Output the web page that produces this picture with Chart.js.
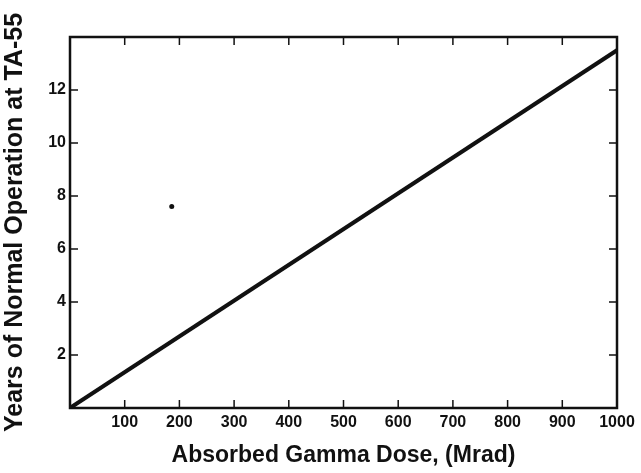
<!DOCTYPE html>
<html>
<head>
<meta charset="utf-8">
<script src="https://cdn.jsdelivr.net/npm/chart.js@4.4.0/dist/chart.umd.min.js"></script>
<style>
    html, body { margin: 0; padding: 0; background: #fff; }
    #wrap { width: 641px; height: 473px; }
</style>
</head>
<body>
<div id="wrap"><canvas id="chartDose"></canvas></div>
<script>
// ================= DATOS =================
const doseMrad = [0, 1000];          // x (Mrad)
const yearsOperation = [0, 13.5];    // y (years)
const speckX = [186];                // stray dot in the scan
const speckY = [7.6];
const xTicks = [100, 200, 300, 400, 500, 600, 700, 800, 900, 1000];
const yTicks = [2, 4, 6, 8, 10, 12];

const FONT = "'Liberation Sans', Arial, Helvetica, sans-serif";

// marco completo + marcas hacia dentro
const framePlugin = {
    id: 'frame',
    afterDraw(chart) {
        const { ctx, chartArea: a, scales: { x, y } } = chart;
        ctx.save();
        ctx.strokeStyle = '#111';
        ctx.lineWidth = 2.5;
        ctx.strokeRect(a.left, a.top, a.right - a.left, a.bottom - a.top);
        ctx.lineWidth = 1.5;
        ctx.beginPath();
        xTicks.forEach(v => {
            const px = x.getPixelForValue(v);
            if (v < 1000) {
                ctx.moveTo(px, a.bottom); ctx.lineTo(px, a.bottom - 8);
                ctx.moveTo(px, a.top); ctx.lineTo(px, a.top + 8);
            }
        });
        yTicks.forEach(v => {
            const py = y.getPixelForValue(v);
            ctx.moveTo(a.left, py); ctx.lineTo(a.left + 8, py);
            ctx.moveTo(a.right, py); ctx.lineTo(a.right - 8, py);
        });
        ctx.stroke();
        ctx.restore();
    }
};

new Chart(document.getElementById('chartDose'), {
    type: 'scatter',
    data: {
        datasets: [{
            data: doseMrad.map((v, i) => ({ x: v, y: yearsOperation[i] })),
            showLine: true,
            borderColor: '#111',
            borderWidth: 4,
            pointRadius: 0
        }, {
            data: speckX.map((v, i) => ({ x: v, y: speckY[i] })),
            pointRadius: 2.5,
            pointBackgroundColor: '#111',
            pointBorderWidth: 0
        }]
    },
    options: {
        responsive: true,
        maintainAspectRatio: false,
        animation: false,
        layout: { padding: { top: 37, right: 24, left: 0, bottom: 0 } },
        plugins: { legend: { display: false }, tooltip: { enabled: false } },
        scales: {
            x: {
                type: 'linear', min: 0, max: 1000,
                afterFit: s => { s.height = 65; },
                afterBuildTicks: s => { s.ticks = xTicks.map(v => ({ value: v })); },
                grid: { display: false, drawTicks: false },
                border: { display: false },
                ticks: {
                    color: '#111', padding: 5,
                    callback: v => String(v),
                    font: { family: FONT, size: 16, weight: 'bold' }
                },
                title: {
                    display: true, text: 'Absorbed Gamma Dose, (Mrad)', color: '#111',
                    padding: { top: 4 },
                    font: { family: FONT, size: 23, weight: 'bold' }
                }
            },
            y: {
                type: 'linear', min: 0, max: 14,
                afterFit: s => { s.width = 70; },
                afterBuildTicks: s => { s.ticks = yTicks.map(v => ({ value: v })); },
                grid: { display: false, drawTicks: false },
                border: { display: false },
                ticks: {
                    color: '#111', padding: 4,
                    font: { family: FONT, size: 16, weight: 'bold' }
                },
                title: {
                    display: true, text: 'Years of Normal Operation at TA-55', color: '#111',
                    padding: 0,
                    font: { family: FONT, size: 25, weight: 'bold' }
                }
            }
        }
    },
    plugins: [framePlugin]
});
</script>
</body>
</html>
